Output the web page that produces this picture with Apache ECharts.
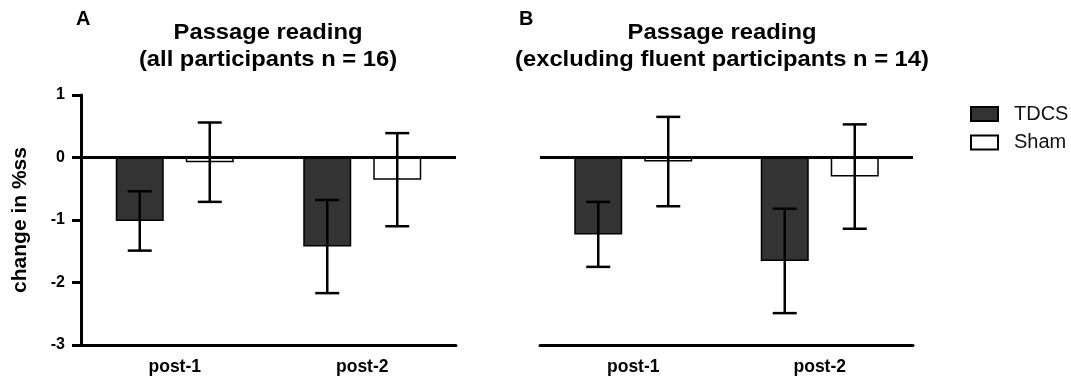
<!DOCTYPE html>
<html>
<head>
<meta charset="utf-8">
<script src="https://cdn.jsdelivr.net/npm/echarts@6/dist/echarts.min.js"></script>
<style>
html,body{margin:0;padding:0;background:#fff;}
#chart{width:1071px;height:382px;}
</style>
</head>
<body>
<div id="chart"></div>
<script>
// ---- data ----
const categories = ['post-1', 'post-2'];
const seriesNames = ['TDCS', 'Sham'];
const panelLetters = ['A', 'B'];
const titleA = ['Passage reading', '(all participants n = 16)'];
const titleB = ['Passage reading', '(excluding fluent participants n = 14)'];
const yAxisName = 'change in %ss';
const yMin = -3, yMax = 1, yInterval = 1;

// Panel A: all participants
const tdcsAllMean = [-1.015, -1.425];
const tdcsAllSE   = [0.475, 0.745];
const shamAllMean = [-0.075, -0.355];
const shamAllSE   = [0.635, 0.745];
// Panel B: excluding fluent participants
const tdcsExclMean = [-1.23, -1.655];
const tdcsExclSE   = [0.52, 0.835];
const shamExclMean = [-0.065, -0.305];
const shamExclSE   = [0.715, 0.835];

// ---- styles ----
const FONT = 'Arial, "Liberation Sans", Helvetica, sans-serif';
const BAR_W = 48, BAR_GAP = 22;
const OFFSET = (BAR_W + BAR_GAP) / 2;
const CAP = 24;
const colors = { TDCS: '#333333', Sham: '#ffffff' };
const TITLE_FONT = 'bold 22px ' + FONT;
const TITLE_SX = 1.08;

const chart = echarts.init(document.getElementById('chart'));

function errSeries(name, means, ses, gridIdx, dir) {
  return {
    type: 'custom',
    name: name + ' error',
    xAxisIndex: gridIdx, yAxisIndex: gridIdx,
    z: 5,
    silent: true,
    data: means.map((m, i) => [i, m, ses[i]]),
    renderItem: function (params, api) {
      const i = api.value(0), m = api.value(1), e = api.value(2);
      const cx = api.coord([i, m])[0] + dir * OFFSET;
      const yt = api.coord([i, m + e])[1];
      const yb = api.coord([i, m - e])[1];
      const st = { stroke: '#000', lineWidth: 2.5 };
      return {
        type: 'group',
        children: [
          { type: 'line', shape: { x1: cx, y1: yt, x2: cx, y2: yb }, style: st },
          { type: 'line', shape: { x1: cx - CAP / 2, y1: yt, x2: cx + CAP / 2, y2: yt }, style: st },
          { type: 'line', shape: { x1: cx - CAP / 2, y1: yb, x2: cx + CAP / 2, y2: yb }, style: st }
        ]
      };
    }
  };
}

function barSeries(name, means, gridIdx, withZero) {
  const s = {
    type: 'bar',
    name: name,
    xAxisIndex: gridIdx, yAxisIndex: gridIdx,
    data: means,
    barWidth: BAR_W,
    barGap: (BAR_GAP / BAR_W * 100) + '%',
    itemStyle: { color: colors[name], borderColor: '#000', borderWidth: 1.5 },
    emphasis: { disabled: true },
    z: 2
  };
  if (withZero) {
    s.markLine = {
      silent: true,
      symbol: ['none', 'none'],
      label: { show: false },
      lineStyle: { color: '#000', width: 3, type: 'solid' },
      data: [{ yAxis: 0 }],
      z: 4
    };
  }
  return s;
}

function xAxisCfg(gridIdx) {
  return {
    type: 'category', gridIndex: gridIdx, data: categories,
    axisLine: { onZero: false, lineStyle: { color: '#000', width: 3 } },
    axisTick: { alignWithLabel: true, length: 9, lineStyle: { color: '#000', width: 3 } },
    axisLabel: { color: '#000', fontFamily: FONT, fontWeight: 'bold', fontSize: 17.5, margin: 13 },
    splitLine: { show: false }
  };
}

function titleText(x, y, txt) {
  return { type: 'text', x: x, y: y, scaleX: TITLE_SX,
    style: { text: txt, font: TITLE_FONT, fill: '#000', align: 'center', verticalAlign: 'middle' } };
}

const option = {
  backgroundColor: '#fff',
  animation: false,
  grid: [
    { left: 81, right: 1071 - 456, top: 95, bottom: 37 },
    { left: 540, right: 1071 - 913, top: 95, bottom: 37 }
  ],
  xAxis: [xAxisCfg(0), xAxisCfg(1)],
  yAxis: [
    {
      type: 'value', gridIndex: 0, min: yMin, max: yMax, interval: yInterval,
      name: yAxisName, nameLocation: 'middle', nameGap: 50,
      nameTextStyle: { color: '#000', fontFamily: FONT, fontWeight: 'bold', fontSize: 21 },
      axisLine: { show: true, lineStyle: { color: '#000', width: 3 } },
      axisTick: { show: true, length: 9, lineStyle: { color: '#000', width: 3 } },
      axisLabel: { color: '#000', fontFamily: FONT, fontWeight: 'bold', fontSize: 16, margin: 16 },
      splitLine: { show: false }
    },
    {
      type: 'value', gridIndex: 1, min: yMin, max: yMax, interval: yInterval, show: false,
      splitLine: { show: false }
    }
  ],
  legend: {
    data: seriesNames,
    orient: 'vertical',
    left: 965, top: 99,
    itemWidth: 27, itemHeight: 14, itemGap: 8.5,
    icon: 'rect',
    selectedMode: false,
    textStyle: { color: '#111', fontFamily: FONT, fontSize: 20, padding: [0, 0, 0, 11] }
  },
  graphic: [
    { type: 'text', left: 76, top: 9, style: { text: panelLetters[0], font: 'bold 20px ' + FONT, fill: '#000' } },
    { type: 'text', left: 519, top: 9, style: { text: panelLetters[1], font: 'bold 20px ' + FONT, fill: '#000' } },
    titleText(268, 33, titleA[0]),
    titleText(268, 60, titleA[1]),
    titleText(722, 33, titleB[0]),
    titleText(722, 60, titleB[1])
  ],
  series: [
    barSeries('TDCS', tdcsAllMean, 0, true),
    barSeries('Sham', shamAllMean, 0, false),
    errSeries('TDCS', tdcsAllMean, tdcsAllSE, 0, -1),
    errSeries('Sham', shamAllMean, shamAllSE, 0, 1),
    barSeries('TDCS', tdcsExclMean, 1, true),
    barSeries('Sham', shamExclMean, 1, false),
    errSeries('TDCS', tdcsExclMean, tdcsExclSE, 1, -1),
    errSeries('Sham', shamExclMean, shamExclSE, 1, 1)
  ]
};
chart.setOption(option);
</script>
</body>
</html>
